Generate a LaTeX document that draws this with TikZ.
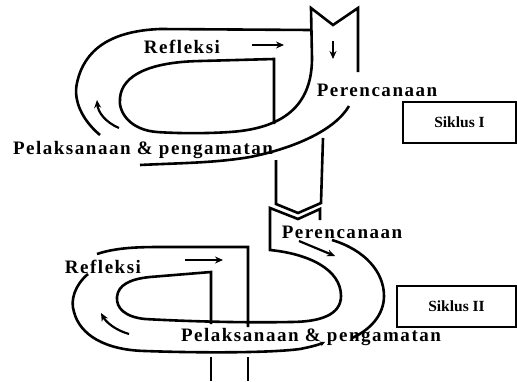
\documentclass[tikz,border=0pt]{standalone}
\usepackage{fontspec}
\setmainfont{Liberation Serif}
\newfontfamily\spacedfont{Liberation Serif}[UprightFont=* Bold,LetterSpace=8]
\newfontfamily\boxfont{Liberation Serif}[UprightFont=* Bold]
\usetikzlibrary{arrows.meta}

\begin{document}
\begin{tikzpicture}[x=1pt,y=-1pt,line width=2.6pt,
    tekst/.style={font=\spacedfont\fontsize{19}{21}\selectfont,inner sep=0pt},
    box/.style={draw,font=\boxfont\fontsize{15.5}{17}\selectfont,minimum height=41pt},
    flow/.style={-{Stealth[length=8pt,width=7pt]},line width=2.2pt}]
        \useasboundingbox (0,0) rectangle (517,381);
        % siklus I
        \draw (358,72) -- (358,8) -- (333,25) -- (311,8) -- (312,58)
            .. controls (312,100) and (290,128) .. (230,132)
            .. controls (200,134) and (170,133) .. (157,132)
            .. controls (130,130) and (118,112) .. (120,98)
            .. controls (122,75) and (150,62) .. (200,61)
            -- (274,59) -- (274,124);
        \draw (100,135) .. controls (82,120) and (73,100) .. (77,83)
            .. controls (84,50) and (110,31) .. (160,29) -- (311,30);
        \draw (140,165) .. controls (180,163) and (215,163) .. (250,157)
            .. controls (295,148) and (335,130) .. (349,106);
        \draw (323,138) -- (321,203) -- (298,213) -- (276,204) -- (276,160);
        % siklus II
        \draw (320,220) -- (320,209) -- (298,219) -- (270,208) -- (270,250)
            .. controls (310,254) and (341,270) .. (341,296)
            .. controls (341,315) and (320,322) .. (290,322)
            .. controls (240,323) and (180,321) .. (145,319)
            .. controls (125,317) and (116,308) .. (117,297)
            .. controls (118,285) and (130,279) .. (150,277)
            -- (211,272) -- (211,324);
        \draw (97,254) .. controls (115,248) and (135,247) .. (160,247) -- (248,247) -- (248,327);
        \draw[-{Stealth[length=5pt,width=5pt]}] (88,274) .. controls (75,285) and (70,300) .. (74,312)
            .. controls (80,335) and (105,350) .. (145,351)
            .. controls (200,353) and (270,353) .. (300,349)
            .. controls (310,347) and (318,345) .. (325,342);
        \draw (332,240) .. controls (365,250) and (384,272) .. (384,296)
            .. controls (384,315) and (370,330) .. (352,338);
        \draw (211,357) -- (211,381);
        \draw (248,357) -- (248,381);
        % arrows
        \draw[flow] (333,41) -- (333,59);
        \draw[flow] (252,45) -- (284,45);
        \draw[flow] (119,128) .. controls (105,122) and (98,112) .. (97,100);
        \draw[flow] (185,260) -- (223,260);
        \draw[flow] (129,334) .. controls (115,330) and (106,322) .. (101,313);
        \draw[flow] (299,241) -- (335,256);
        % labels
        \node[tekst] (refleksiI) at (182,47) {Refleksi};
        \node[tekst] (perencanaanI) at (377,90) {Perencanaan};
        \node[tekst] (pelaksanaanI) at (143,150) {Pelaksanaan \& pengamatan};
        \node[tekst] (refleksiII) at (103,267) {Refleksi};
        \node[tekst] (perencanaanII) at (342,232) {Perencanaan};
        \node[tekst] (pelaksanaanII) at (311,337) {Pelaksanaan \& pengamatan};
        \node[box,minimum width=113pt] (siklusI) at (459.5,122.5) {Siklus I};
        \node[box,minimum width=119pt] (siklusII) at (456.5,306.5) {Siklus II};
    \end{tikzpicture}
\end{document}
